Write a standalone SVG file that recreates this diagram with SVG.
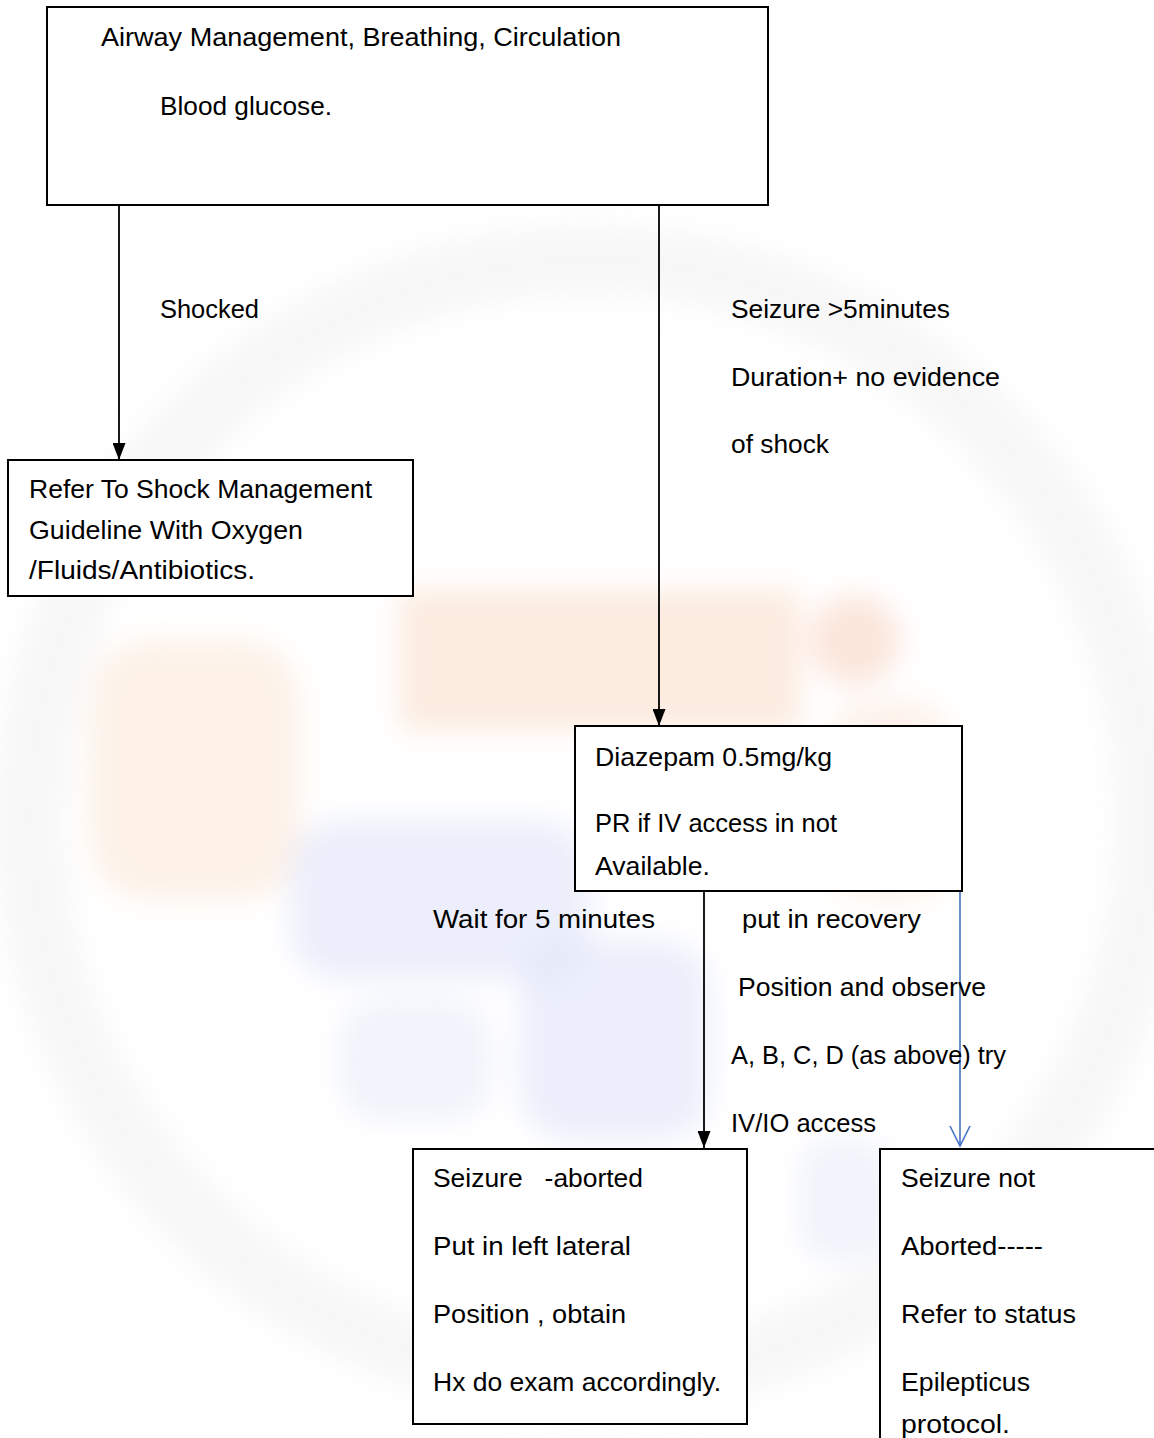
<svg xmlns="http://www.w3.org/2000/svg" width="1154" height="1438" viewBox="0 0 1154 1438">
<style>
  .t { font-family: "Liberation Sans", Arial, sans-serif; font-size: 26px; fill: #000; }
  .box { fill: #fff; stroke: #000; stroke-width: 2; }
  .ln { fill: none; stroke: #000; stroke-width: 1.8; }
  .bl { fill: none; stroke: #4472C4; stroke-width: 1.6; }
</style>
<defs>
  <marker id="ah" viewBox="0 0 17 13" refX="17" refY="6.5" markerWidth="17" markerHeight="13" markerUnits="userSpaceOnUse" orient="auto">
    <path d="M0,0 L17,6.5 L0,13 Z" fill="#000"/>
  </marker>
  <filter id="blur" x="-20%" y="-20%" width="140%" height="140%"><feGaussianBlur stdDeviation="14"/></filter>
</defs>
<rect width="1154" height="1438" fill="#fff"/>
<g id="watermark" filter="url(#blur)">
  <circle cx="590" cy="820" r="560" fill="none" stroke="#d8d8d8" stroke-width="70" opacity="0.2"/>
  <rect x="400" y="590" width="400" height="140" fill="#f9d7c0" opacity="0.5"/>
  <circle cx="855" cy="640" r="45" fill="#f6c8b0" opacity="0.45"/>
  <rect x="90" y="640" width="210" height="260" rx="60" fill="#fadfcb" opacity="0.45"/>
  <rect x="830" y="700" width="120" height="200" rx="40" fill="#fadfcb" opacity="0.4"/>
  <rect x="290" y="820" width="300" height="160" rx="50" fill="#dfe4f8" opacity="0.6"/>
  <rect x="520" y="940" width="190" height="200" rx="50" fill="#dfe4f8" opacity="0.6"/>
  <rect x="340" y="1000" width="150" height="120" rx="40" fill="#e3e7f8" opacity="0.5"/>
  <rect x="800" y="1140" width="90" height="120" rx="30" fill="#e3e7f8" opacity="0.5"/>
</g>
<g id="connectors">
  <line class="ln" x1="119" y1="205" x2="119" y2="460" marker-end="url(#ah)"/>
  <line class="ln" x1="659" y1="205" x2="659" y2="726" marker-end="url(#ah)"/>
  <line class="ln" x1="704" y1="891" x2="704" y2="1148" marker-end="url(#ah)"/>
  <line class="bl" x1="960" y1="891" x2="960" y2="1146"/>
  <polyline class="bl" points="950,1126 960,1146 970,1126"/>
</g>
<g id="n-abc">
  <rect class="box" x="47" y="7" width="721" height="198"/>
  <text class="t" x="101" y="46" textLength="520" lengthAdjust="spacingAndGlyphs">Airway Management, Breathing, Circulation</text>
  <text class="t" x="160" y="115" textLength="172" lengthAdjust="spacingAndGlyphs">Blood glucose.</text>
</g>
<g id="l-shocked">
  <text class="t" x="160" y="318" textLength="99" lengthAdjust="spacingAndGlyphs">Shocked</text>
</g>
<g id="l-seizure">
  <text class="t" x="731" y="318" textLength="219" lengthAdjust="spacingAndGlyphs">Seizure &gt;5minutes</text>
  <text class="t" x="731" y="386" textLength="269" lengthAdjust="spacingAndGlyphs">Duration+ no evidence</text>
  <text class="t" x="731" y="453" textLength="98" lengthAdjust="spacingAndGlyphs">of shock</text>
</g>
<g id="n-shock">
  <rect class="box" x="8" y="460" width="405" height="136"/>
  <text class="t" x="29" y="498" textLength="343" lengthAdjust="spacingAndGlyphs">Refer To Shock Management</text>
  <text class="t" x="29" y="539" textLength="274" lengthAdjust="spacingAndGlyphs">Guideline With Oxygen</text>
  <text class="t" x="29" y="579" textLength="226" lengthAdjust="spacingAndGlyphs">/Fluids/Antibiotics.</text>
</g>
<g id="n-diazepam">
  <rect class="box" x="575" y="726" width="387" height="165"/>
  <text class="t" x="595" y="766" textLength="237" lengthAdjust="spacingAndGlyphs">Diazepam 0.5mg/kg</text>
  <text class="t" x="595" y="832" textLength="242" lengthAdjust="spacingAndGlyphs">PR if IV access in not</text>
  <text class="t" x="595" y="875" textLength="115" lengthAdjust="spacingAndGlyphs">Available.</text>
</g>
<g id="l-wait">
  <text class="t" x="433" y="928" textLength="222" lengthAdjust="spacingAndGlyphs">Wait for 5 minutes</text>
</g>
<g id="l-recovery">
  <text class="t" x="742" y="928" textLength="179" lengthAdjust="spacingAndGlyphs">put in recovery</text>
  <text class="t" x="738" y="996" textLength="248" lengthAdjust="spacingAndGlyphs">Position and observe</text>
  <text class="t" x="731" y="1064" textLength="275" lengthAdjust="spacingAndGlyphs">A, B, C, D (as above) try</text>
  <text class="t" x="731" y="1132" textLength="145" lengthAdjust="spacingAndGlyphs">IV/IO access</text>
</g>
<g id="n-aborted">
  <rect class="box" x="413" y="1149" width="334" height="275"/>
  <text class="t" x="433" y="1187" textLength="210" lengthAdjust="spacingAndGlyphs" xml:space="preserve">Seizure   -aborted</text>
  <text class="t" x="433" y="1255" textLength="198" lengthAdjust="spacingAndGlyphs">Put in left lateral</text>
  <text class="t" x="433" y="1323" textLength="193" lengthAdjust="spacingAndGlyphs">Position , obtain</text>
  <text class="t" x="433" y="1391" textLength="288" lengthAdjust="spacingAndGlyphs">Hx do exam accordingly.</text>
</g>
<g id="n-not-aborted">
  <rect class="box" x="880" y="1149" width="290" height="320"/>
  <text class="t" x="901" y="1187" textLength="134" lengthAdjust="spacingAndGlyphs">Seizure not</text>
  <text class="t" x="901" y="1255" textLength="142" lengthAdjust="spacingAndGlyphs">Aborted-----</text>
  <text class="t" x="901" y="1323" textLength="175" lengthAdjust="spacingAndGlyphs">Refer to status</text>
  <text class="t" x="901" y="1391" textLength="129" lengthAdjust="spacingAndGlyphs">Epilepticus</text>
  <text class="t" x="901" y="1433" textLength="109" lengthAdjust="spacingAndGlyphs">protocol.</text>
</g>
</svg>
